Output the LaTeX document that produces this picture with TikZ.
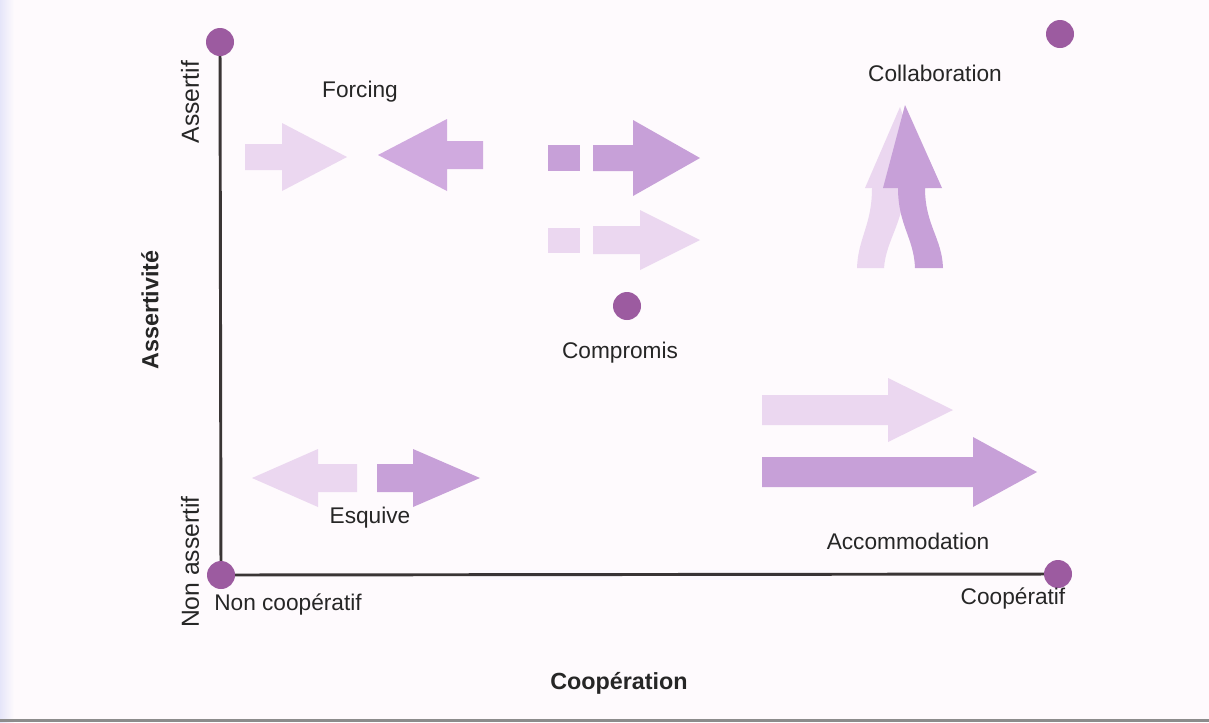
\documentclass[tikz,border=0pt]{standalone}
\usepackage{fontspec}
\setmainfont{Liberation Sans}
\usetikzlibrary{backgrounds}
\definecolor{bgc}{HTML}{FEFAFD}
\definecolor{dotc}{HTML}{9C5BA0}
\definecolor{arrD}{HTML}{C7A0D8}
\definecolor{arrM}{HTML}{D0AADF}
\definecolor{arrL}{HTML}{EBD7F0}
\definecolor{axisc}{HTML}{3A3535}
\newcommand\myarrow[7]{% style, tail, base, tip, y, halfbody, halfhead
  \fill[#1] (#2,{#5-#6}) -- (#3,{#5-#6}) -- (#3,{#5-#7}) -- (#4,#5) -- (#3,{#5+#7}) -- (#3,{#5+#6}) -- (#2,{#5+#6}) -- cycle;}
\tikzset{
  dot/.style={circle, fill=dotc, minimum size=28pt*0.75, inner sep=0pt},
  lbl/.style={font=\fontsize{17}{20}\selectfont, text=black!85, inner sep=0pt},
  rlbl/.style={font=\fontsize{18.5}{20}\selectfont, text=black!85, inner sep=0pt, rotate=90},
  blbl/.style={font=\fontsize{17.5}{20}\selectfont\bfseries, text=black!85, inner sep=0pt},
  axisline/.style={draw=axisc, line width=2.2pt},
}
\begin{document}
\begin{tikzpicture}[x=0.75pt, y=-0.75pt]
\begin{pgfonlayer}{background}
\fill[bgc] (0,0) rectangle (1209,722);
\shade[left color=black!25!blue!10!white, right color=bgc] (0,0) rectangle (14,722);
\fill[black!45] (0,719) rectangle (1209,722);
\end{pgfonlayer}
\useasboundingbox (0,0) rectangle (1209,722);

% dots
\node[dot] (tl) at (220,42) {};
\node[dot] (bl) at (221,575) {};
\node[dot] (br) at (1058,574) {};
\node[dot] (tr) at (1060,34) {};
\node[dot] (cm) at (627,306) {};

\begin{pgfonlayer}{background}
\draw[axisline] (tl.center) -- (bl.center) -- (br.center);
\end{pgfonlayer}

% labels
\node[lbl] (forcing) at (360,92) {Forcing};
\node[lbl] (collab) at (935,73) {Collaboration};
\node[lbl] (compromis) at (620,353) {Compromis};
\node[lbl] (esquive) at (370,518) {Esquive};
\node[lbl] (accom) at (908,541) {Accommodation};
\node[lbl] (noncoop) at (288,604) {Non coopératif};
\node[lbl] (coop) at (1013,598) {Coopératif};
\node[blbl] (cooperation) at (619,683) {Coopération};
\node[rlbl] (assertif) at (190,102) {Assertif};
\node[rlbl] (nonassertif) at (190,562) {Non assertif};
\node[blbl, rotate=90] (assertivite) at (150,310) {Assertivité};

% Forcing arrows
\myarrow{arrL}{245}{282}{347}{157}{13}{34}
\myarrow{arrM}{483}{447}{378}{155}{14}{36}
% Compromis arrows
\fill[arrD] (548,145) rectangle (580,171);
\myarrow{arrD}{593}{633}{700}{158}{13}{38}
\fill[arrL] (548,228) rectangle (580,253);
\myarrow{arrL}{593}{640}{700}{240}{14}{30}
% Esquive arrows
\myarrow{arrL}{357}{318}{252}{478}{14}{29}
\myarrow{arrD}{377}{413}{480}{478}{14}{29}
% Accommodation arrows
\myarrow{arrL}{762}{888}{953}{410}{15}{32}
\myarrow{arrD}{762}{973}{1037}{472}{15}{35}
% Collaboration arrows
\fill[arrL] (872,188) .. controls (872,225) and (858,238) .. (857,268) -- (884,268)
  .. controls (886,240) and (904,222) .. (904,188) -- (928,188) -- (900,107) -- (865,188) -- cycle;
\fill[arrD] (898,188) .. controls (898,225) and (914,238) .. (915,268) -- (943,268)
  .. controls (942,238) and (925,225) .. (925,188) -- (942,188) -- (905,105) -- (883,188) -- cycle;
\end{tikzpicture}
\end{document}
